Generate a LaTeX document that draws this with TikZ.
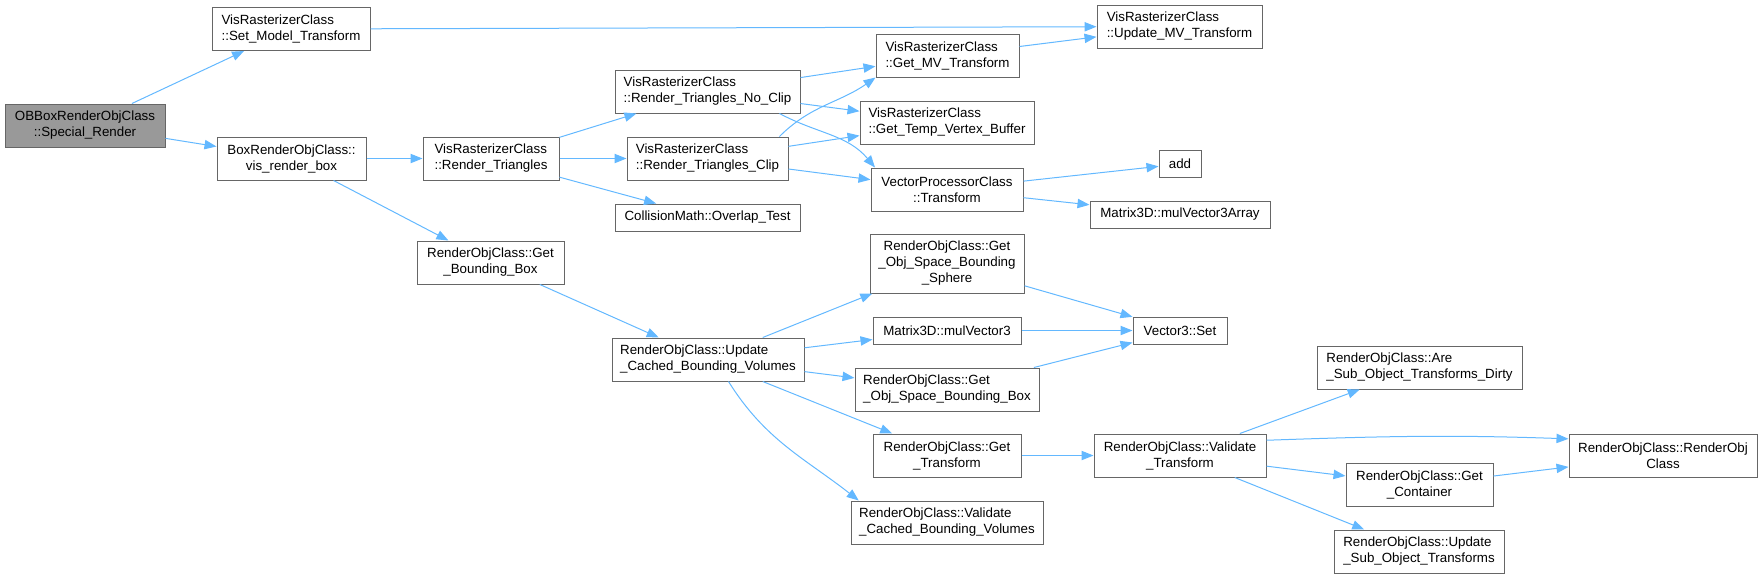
\documentclass[tikz,border=0pt]{standalone}
\usepackage{fontspec}
\setmainfont{Liberation Sans}
\usepackage{xcolor}
\usepackage{tikz}
\usetikzlibrary{arrows.meta}

\definecolor{edgeblue}{HTML}{63B8FF}
\definecolor{boxgray}{HTML}{666666}
\definecolor{rootgray}{HTML}{999999}

\tikzset{
  fn/.style={draw=boxgray, fill=white, line width=0.75pt, inner sep=0pt,
    font=\fontsize{10}{12}\selectfont, minimum height=32.25pt},
  fnone/.style={fn, minimum height=20.25pt},
  call/.style={draw=edgeblue, line width=0.75pt, ->}
}

\begin{document}
\begin{tikzpicture}[x=0.75pt, y=-0.75pt, >={Triangle[length=9pt,width=7pt]}]
  \useasboundingbox (0,0) rectangle (1762,579);

  % Caller and first level
  \node[fn, fill=rootgray, minimum width=120pt, align=center] (special) at (85,125.5) {OBBoxRenderObjClass\\::Special\_Render};
  \node[fn, minimum width=118.5pt, align=left] (setmodel) at (291,29) {VisRasterizerClass\\::Set\_Model\_Transform};
  \node[fn, minimum width=111.75pt, align=center] (visbox) at (291.5,158.5) {BoxRenderObjClass::\\vis\_render\_box};

  % Rasterizer
  \node[fn, minimum width=102pt, align=left] (rtri) at (491,158.5) {VisRasterizerClass\\::Render\_Triangles};
  \node[fn, minimum width=138.75pt, align=left] (noclip) at (707.5,91.5) {VisRasterizerClass\\::Render\_Triangles\_No\_Clip};
  \node[fn, minimum width=120.75pt, align=left] (clip) at (707.5,158.5) {VisRasterizerClass\\::Render\_Triangles\_Clip};
  \node[fnone, minimum width=138.75pt] (overlap) at (707.5,217.5) {CollisionMath::Overlap\_Test};
  \node[fn, minimum width=107.25pt, align=left] (getmv) at (947.5,55.5) {VisRasterizerClass\\::Get\_MV\_Transform};
  \node[fn, minimum width=130.5pt, align=left] (gettemp) at (947,122.5) {VisRasterizerClass\\::Get\_Temp\_Vertex\_Buffer};
  \node[fn, minimum width=114pt, align=center] (vptrans) at (947,189.5) {VectorProcessorClass\\::Transform};
  \node[fn, minimum width=123.75pt, align=left] (updmv) at (1179.5,26.5) {VisRasterizerClass\\::Update\_MV\_Transform};
  \node[fnone, minimum width=31.5pt] (add) at (1180,164) {add};
  \node[fnone, minimum width=135pt] (mularr) at (1180,214.5) {Matrix3D::mulVector3Array};

  % Bounding volumes
  \node[fn, minimum width=110.25pt, align=center] (getbbox) at (490.5,262.5) {RenderObjClass::Get\\\_Bounding\_Box};
  \node[fn, minimum width=144pt, align=left] (updcache) at (708,359.5) {RenderObjClass::Update\\\_Cached\_Bounding\_Volumes};
  \node[fn, minimum width=115.5pt, minimum height=44.25pt, align=center] (sphere) at (947,263.5) {RenderObjClass::Get\\\_Obj\_Space\_Bounding\\\_Sphere};
  \node[fnone, minimum width=111pt] (mulvec) at (947,330.5) {Matrix3D::mulVector3};
  \node[fn, minimum width=138pt, align=left] (objbox) at (947,389.5) {RenderObjClass::Get\\\_Obj\_Space\_Bounding\_Box};
  \node[fn, minimum width=111pt, align=center] (gettr) at (947,455.5) {RenderObjClass::Get\\\_Transform};
  \node[fn, minimum width=144pt, align=left] (valcache) at (947,522.5) {RenderObjClass::Validate\\\_Cached\_Bounding\_Volumes};
  \node[fnone, minimum width=70.5pt] (vset) at (1180,330.5) {Vector3::Set};

  % Transform validation
  \node[fn, minimum width=129pt, align=center] (valtr) at (1180,455.5) {RenderObjClass::Validate\\\_Transform};
  \node[fn, minimum width=153.75pt, align=left] (aresub) at (1419.5,367.5) {RenderObjClass::Are\\\_Sub\_Object\_Transforms\_Dirty};
  \node[fn, minimum width=110.25pt, align=center] (getcont) at (1419.5,485) {RenderObjClass::Get\\\_Container};
  \node[fn, minimum width=127.5pt, align=left] (updsub) at (1419,551.5) {RenderObjClass::Update\\\_Sub\_Object\_Transforms};
  \node[fn, minimum width=141pt, align=center] (robj) at (1663,455.5) {RenderObjClass::RenderObj\\Class};

  % Calls
  \draw[call] (special) -- (setmodel);
  \draw[call] (special) -- (visbox);
  \draw[call] (setmodel) -- (updmv);
  \draw[call] (visbox) -- (rtri);
  \draw[call] (visbox) -- (getbbox);
  \draw[call] (rtri) -- (noclip);
  \draw[call] (rtri) -- (clip);
  \draw[call] (rtri) -- (overlap);
  \draw[call] (noclip) -- (getmv);
  \draw[call] (noclip) -- (gettemp);
  \draw[call] (noclip.-17) to[out=-28, in=130] (vptrans.163);
  \draw[call] (clip.17) to[out=45, in=-145] (getmv.-163);
  \draw[call] (clip) -- (gettemp);
  \draw[call] (clip) -- (vptrans);
  \draw[call] (getmv) -- (updmv);
  \draw[call] (vptrans) -- (add);
  \draw[call] (vptrans) -- (mularr);
  \draw[call] (getbbox) -- (updcache);
  \draw[call] (updcache) -- (sphere);
  \draw[call] (updcache) -- (mulvec);
  \draw[call] (updcache) -- (objbox);
  \draw[call] (updcache) -- (gettr);
  \draw[call] (updcache.-47) to[out=-58, in=142] (valcache.166);
  \draw[call] (sphere) -- (vset);
  \draw[call] (mulvec) -- (vset);
  \draw[call] (objbox) -- (vset);
  \draw[call] (gettr) -- (valtr);
  \draw[call] (valtr) -- (aresub);
  \draw[call] (valtr.10) to[out=2, in=178] (robj.170);
  \draw[call] (valtr) -- (getcont);
  \draw[call] (valtr) -- (updsub);
  \draw[call] (getcont) -- (robj);
\end{tikzpicture}
\end{document}
